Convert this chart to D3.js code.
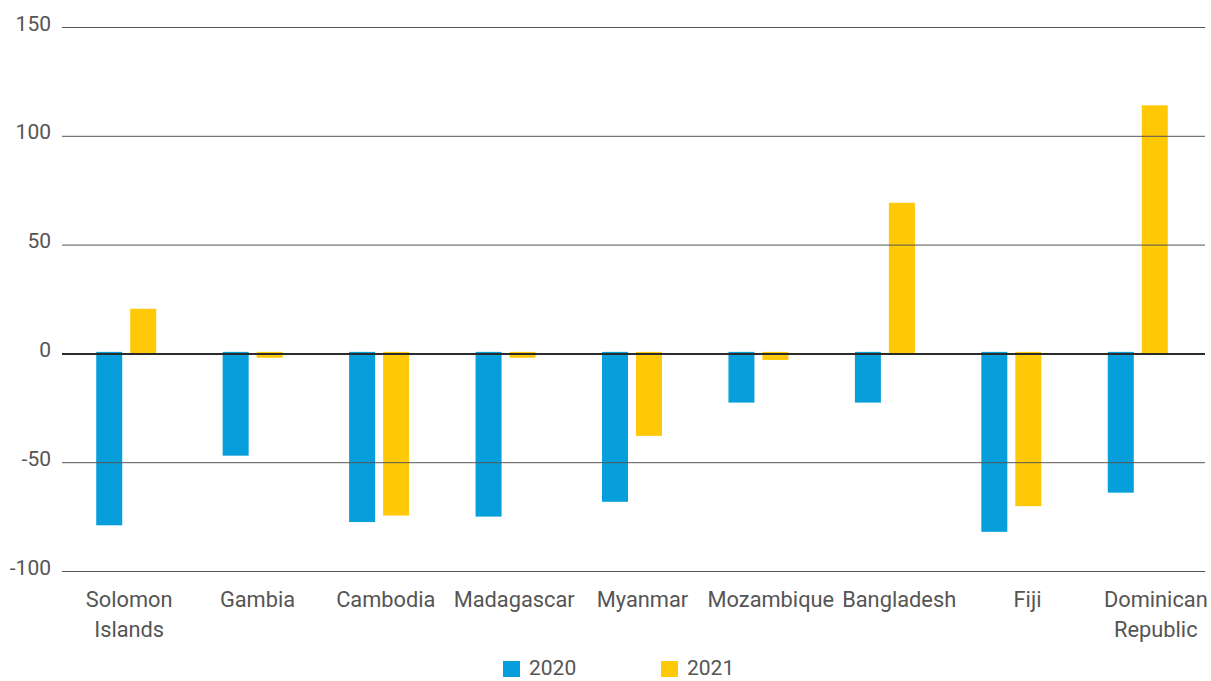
<!DOCTYPE html>
<html><head><meta charset="utf-8">
<script src="https://cdn.jsdelivr.net/npm/d3@7"></script>
<style>
body{margin:0;background:#fff;}
text{font-family:Roboto,"Noto Sans",sans-serif;fill:#555;}
</style></head>
<body>
<svg id="chart" width="1211" height="681"></svg>
<script>
const categories = ["Solomon Islands","Gambia","Cambodia","Madagascar","Myanmar","Mozambique","Bangladesh","Fiji","Dominican Republic"];
const labelLines = [["Solomon","Islands"],["Gambia"],["Cambodia"],["Madagascar"],["Myanmar"],["Mozambique"],["Bangladesh"],["Fiji"],["Dominican","Republic"]];
const seriesNames = ["2020","2021"];
const values2020 = [-79, -47, -77.5, -75, -68.2, -22.6, -22.6, -82, -64];
const values2021 = [20.5, -2, -74.5, -2, -37.9, -3, 69.2, -70.2, 114];
const yTicks = [-100, -50, 0, 50, 100, 150];
const colors = ["#079fdb", "#ffc907"];

const svg = d3.select("#chart");
const y = d3.scaleLinear().domain([-100, 150]).range([571, 27]);
const x = d3.scaleBand().domain(categories).range([63, 1201]).paddingInner(0).paddingOuter(0);
const xLabel = d3.scaleBand().domain(categories).range([65, 1220]);
const barW = 26, gap = 8;

const data = categories.map((c, i) => ({c, v: [values2020[i], values2021[i]]}));

// bars
const g = svg.append("g");
data.forEach(d => {
  d.v.forEach((v, k) => {
    const cx = x(d.c) + x.bandwidth() / 2;
    const x0 = k === 0 ? cx - gap / 2 - barW : cx + gap / 2;
    g.append("rect")
      .attr("x", x0)
      .attr("y", Math.min(y(v), y(0)) - (v < 0 ? 1.5 : 0))
      .attr("width", barW)
      .attr("height", Math.abs(y(v) - y(0)) + (v < 0 ? 1.5 : 0))
      .attr("fill", colors[k]);
  });
});

// gridlines + y labels
const yAxis = d3.axisLeft(y).tickValues(yTicks).tickSize(0).tickPadding(0).tickFormat(d => String(d));
svg.selectAll(".grid").data(yTicks).enter().append("line")
  .attr("x1", 62).attr("x2", 1205)
  .attr("y1", d => y(d) + 0.5).attr("y2", d => y(d) + 0.5)
  .attr("stroke", d => d === 0 ? "#2b2b2b" : "#555")
  .attr("stroke-width", d => d === 0 ? 2 : 1);
const ya = svg.append("g").attr("transform", "translate(51,0)").call(yAxis);
ya.select(".domain").remove();
ya.selectAll("text").attr("font-size", 21).attr("dy", "0.15em").style("fill", "#555").style("font-family", "Roboto");

// x labels
const xa = svg.append("g");
categories.forEach((c, i) => {
  const t = xa.append("text").attr("text-anchor", "middle").attr("font-size", 21.8)
    .attr("x", xLabel(c) + xLabel.bandwidth() / 2).attr("y", 607);
  labelLines[i].forEach((ln, j) => {
    t.append("tspan").attr("x", xLabel(c) + xLabel.bandwidth() / 2).attr("dy", j === 0 ? 0 : 30).text(ln);
  });
});

// legend
const legX = [503, 661];
seriesNames.forEach((s, k) => {
  svg.append("rect").attr("x", legX[k]).attr("y", 661).attr("width", 17).attr("height", 16).attr("fill", colors[k]);
  svg.append("text").attr("x", legX[k] + 26).attr("y", 675).attr("font-size", 21).text(s);
});
</script>
</body></html>
